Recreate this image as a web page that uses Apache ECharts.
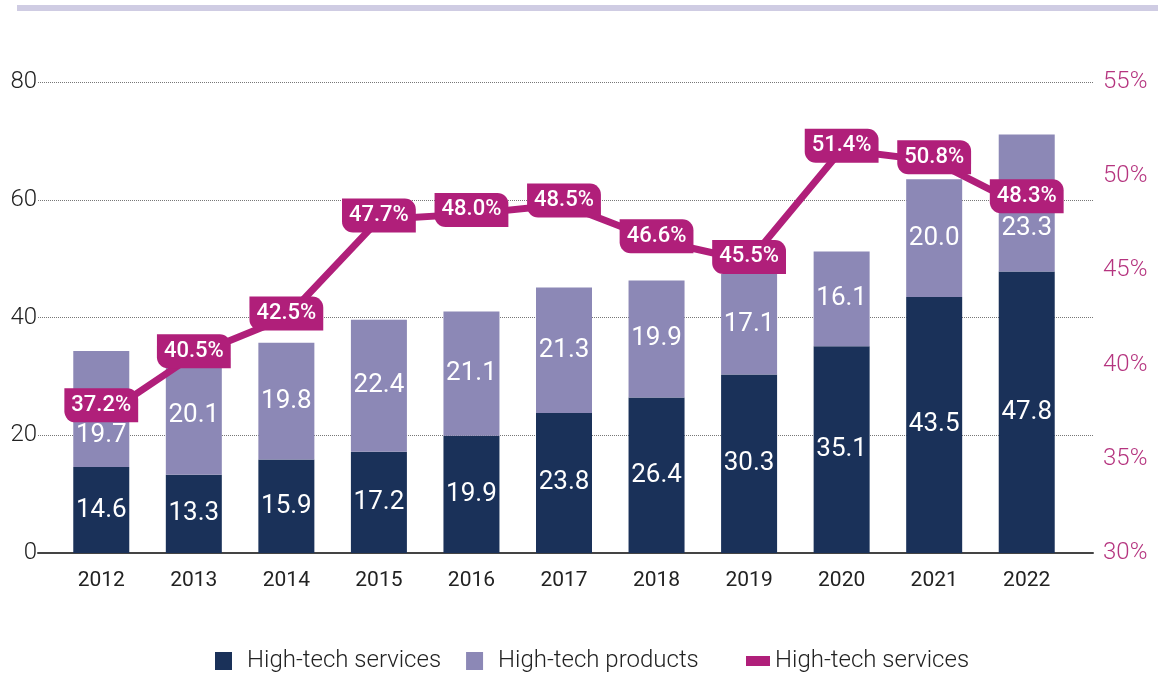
<!DOCTYPE html>
<html><head><meta charset="utf-8">
<script src="https://cdn.jsdelivr.net/npm/echarts@6/dist/echarts.min.js"></script>
<style>html,body{margin:0;padding:0;background:#fff}#c{width:1158px;height:673px}</style>
</head><body><div id="c"></div>
<script>
const years = ['2012','2013','2014','2015','2016','2017','2018','2019','2020','2021','2022'];
const services = [14.6,13.3,15.9,17.2,19.9,23.8,26.4,30.3,35.1,43.5,47.8];
const products = [19.7,20.1,19.8,22.4,21.1,21.3,19.9,17.1,16.1,20.0,23.3];
const servicesShare = [37.2,40.5,42.5,47.7,48.0,48.5,46.6,45.5,51.4,50.8,48.3];
const leftTicks = {min:0, max:80, interval:20};
const rightTicks = {min:30, max:55, interval:5};

const FONT = 'Roboto, "Noto Sans", sans-serif';
const NAVY = '#1a3159', LAV = '#8c88b6', MAG = '#b01f7a';

const chart = echarts.init(document.getElementById('c'));
const last = years.length - 1;
const productsData = products.map((v,i)=> (i===0 || i===last) ? {value:v, label:{offset:[0,26]}} : v);
const shareData = servicesShare.map((v,i)=> ({value:v, label:{offset:[0,(i===0 || i===last) ? -12 : -4]}}));
chart.setOption({
  animation:false,
  graphic:[{type:'rect', shape:{x:17,y:5,width:1141,height:6}, style:{fill:'#cfcce3'}, z:-1}],
  grid:[
    {left:55, right:85, top:82, bottom:120},
    {left:38, right:65, top:82, bottom:120}
  ],
  xAxis:[
    {type:'category', gridIndex:0, data:years, axisLine:{show:false}, axisTick:{show:false},
     axisLabel:{fontFamily:FONT, fontSize:21, color:'#222', margin:17}},
    {type:'value', gridIndex:1, min:0, max:1, axisLine:{show:true, onZero:false, lineStyle:{color:'#444', width:2}},
     axisTick:{show:false}, axisLabel:{show:false}, splitLine:{show:false}}
  ],
  yAxis:[
    {type:'value', gridIndex:0, ...leftTicks, position:'left', axisLine:{show:false}, axisTick:{show:false},
     splitLine:{show:false}, axisLabel:{fontFamily:FONT, fontSize:24, fontWeight:300, color:'#222', margin:18, align:'right'}},
    {type:'value', gridIndex:0, ...rightTicks, position:'right', axisLine:{show:false}, axisTick:{show:false},
     splitLine:{show:false}, axisLabel:{fontFamily:FONT, fontSize:24, fontWeight:300, color:'#b5347f', margin:30, align:'left', formatter:'{value}%'}},
    {type:'value', gridIndex:1, ...leftTicks, axisLine:{show:false}, axisTick:{show:false}, axisLabel:{show:false},
     splitLine:{show:true, lineStyle:{color:'#777', type:[1,1], width:1}}}
  ],
  legend:[
    {data:['High-tech services','High-tech products'], left:210, top:644, itemWidth:17, itemHeight:18, itemGap:25,
     icon:'rect', textStyle:{fontFamily:FONT, fontSize:24, fontWeight:300, color:'#222', padding:[0,0,0,10]}},
    {data:['High-tech services share'], left:741, top:644, itemWidth:24, itemHeight:10, icon:'rect',
     formatter:()=> 'High-tech services', textStyle:{fontFamily:FONT, fontSize:24, fontWeight:300, color:'#222'}}
  ],
  series:[
    {name:'High-tech services', type:'bar', stack:'a', xAxisIndex:0, yAxisIndex:0, barWidth:56, data:services,
     itemStyle:{color:NAVY},
     label:{show:true, position:'inside', color:'#fff', fontFamily:FONT, fontSize:26, formatter:p=>p.value.toFixed(1)}},
    {name:'High-tech products', type:'bar', stack:'a', xAxisIndex:0, yAxisIndex:0, barWidth:56, data:productsData,
     itemStyle:{color:LAV},
     label:{show:true, position:'inside', color:'#fff', fontFamily:FONT, fontSize:26, formatter:p=>p.value.toFixed(1)}},
    {name:'High-tech services share', type:'line', xAxisIndex:0, yAxisIndex:1, data:shareData, z:5,
     lineStyle:{color:MAG, width:7}, itemStyle:{color:MAG}, symbol:'circle', symbolSize:2,
     label:{show:true, position:'inside', formatter:p=>p.value.toFixed(1)+'%', color:'#fff', fontFamily:FONT,
       fontSize:22, fontWeight:500, backgroundColor:MAG, padding:[7,7,5,7], borderRadius:[0,11,0,11]}}
  ]
});
</script></body></html>
